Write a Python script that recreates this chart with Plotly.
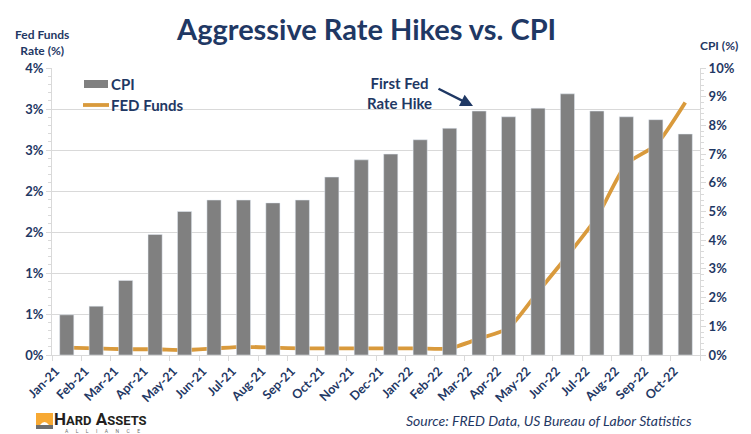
import plotly.graph_objects as go

months = ["Jan-21","Feb-21","Mar-21","Apr-21","May-21","Jun-21","Jul-21","Aug-21","Sep-21",
          "Oct-21","Nov-21","Dec-21","Jan-22","Feb-22","Mar-22","Apr-22","May-22","Jun-22",
          "Jul-22","Aug-22","Sep-22","Oct-22"]
cpi = [1.4, 1.7, 2.6, 4.2, 5.0, 5.4, 5.4, 5.3, 5.4, 6.2, 6.8, 7.0, 7.5, 7.9, 8.5, 8.3,
       8.6, 9.1, 8.5, 8.3, 8.2, 7.7]
fed_funds = [0.09, 0.08, 0.07, 0.07, 0.06, 0.08, 0.10, 0.09, 0.08, 0.08, 0.08, 0.08, 0.08,
             0.08, 0.20, 0.33, 0.77, 1.21, 1.68, 2.33, 2.56, 3.08]
left_tickvals = [0, 0.5, 1.0, 1.5, 2.0, 2.5, 3.0, 3.5]
left_ticktext = ["0%", "1%", "1%", "2%", "2%", "3%", "3%", "4%"]
right_tickvals = list(range(0, 11))
right_ticktext = [f"{v}%" for v in right_tickvals]

NAVY = "#1F3864"
FONT = "Lato"
GOLD = "#D99A3C"
GRAY = "#808080"

# plot area in pixels
L, R, T, B = 52, 700, 68, 355
W, H = R - L, B - T
def px(x): return (x - L) / W
def py(y): return (B - y) / H

fig = go.Figure()
fig.add_trace(go.Bar(x=months, y=cpi, name="CPI", marker_color=GRAY, width=0.48,
                     yaxis="y2", showlegend=False, hoverinfo="skip"))
fig.add_trace(go.Scatter(x=months, y=fed_funds, name="FED Funds", mode="lines",
                         line=dict(color=GOLD, width=3.8, shape="spline", smoothing=0.6),
                         yaxis="y", showlegend=False, hoverinfo="skip"))

fig.update_layout(
    width=751, height=434,
    margin=dict(l=L, r=751 - R, t=T, b=434 - B),
    paper_bgcolor="white", plot_bgcolor="white",
    font=dict(family=FONT, color=NAVY),
    xaxis=dict(type="category", tickangle=-45, tickson="boundaries", ticks="outside",
               ticklen=5, tickcolor="#d9d9d9", showline=True, linecolor="#d9d9d9",
               tickfont=dict(size=12.5, color=NAVY, family=FONT, weight="bold"),
               ticklabelshift=-11, ticklabelstandoff=3,
               showgrid=False, automargin=False),
    yaxis=dict(range=[0, 3.5], tickvals=left_tickvals, ticktext=left_ticktext,
               showgrid=True, gridcolor="#d9d9d9", gridwidth=1, zeroline=False,
               showline=True, linecolor="#d9d9d9", ticks="outside", ticklen=5,
               tickcolor="#d9d9d9", automargin=False,
               minor=dict(dtick=0.1, ticks="outside", ticklen=3, tickcolor="#d9d9d9", showgrid=False),
               tickfont=dict(size=13, color=NAVY, family=FONT, weight="bold")),
    yaxis2=dict(range=[0, 10], tickvals=right_tickvals, ticktext=right_ticktext,
                overlaying="y", side="right", showgrid=False, zeroline=False,
                showline=True, linecolor="#d9d9d9", ticks="outside", ticklen=5,
                tickcolor="#d9d9d9", automargin=False,
                minor=dict(dtick=0.2, ticks="outside", ticklen=3, tickcolor="#d9d9d9"),
                tickfont=dict(size=13, color=NAVY, family=FONT, weight="bold")),
    bargap=0.52,
)

# Title and axis titles
fig.add_annotation(text="<b>Aggressive Rate Hikes vs. CPI</b>", xref="paper", yref="paper",
                   x=px(366), y=py(28), xanchor="center", yanchor="middle", showarrow=False,
                   font=dict(size=29, color=NAVY, family=FONT))
fig.add_annotation(text="<b>Fed Funds<br>Rate (%)</b>", xref="paper", yref="paper",
                   x=px(42), y=py(42), xanchor="center", yanchor="middle",
                   showarrow=False, align="center", font=dict(size=12, color=NAVY, family=FONT))
fig.add_annotation(text="<b>CPI (%)</b>", xref="paper", yref="paper",
                   x=px(719), y=py(46), xanchor="center", yanchor="middle",
                   showarrow=False, font=dict(size=12, color=NAVY, family=FONT))

# Legend (custom)
fig.add_shape(type="rect", xref="paper", yref="paper", x0=px(84), x1=px(108),
              y0=py(88), y1=py(80), fillcolor=GRAY, line_width=0)
fig.add_shape(type="line", xref="paper", yref="paper", x0=px(83), x1=px(109),
              y0=py(105), y1=py(105), line=dict(color=GOLD, width=3.8))
fig.add_annotation(text="<b>CPI</b>", xref="paper", yref="paper", x=px(109),
                   y=py(84), xanchor="left", yanchor="middle", showarrow=False,
                   font=dict(size=15, color=NAVY, family=FONT))
fig.add_annotation(text="<b>FED Funds</b>", xref="paper", yref="paper", x=px(109),
                   y=py(105), xanchor="left", yanchor="middle", showarrow=False,
                   font=dict(size=15, color=NAVY, family=FONT))

# First hike annotation
fig.add_annotation(text="<b>First Fed<br>Rate Hike</b>", xref="paper", yref="paper",
                   x=px(399), y=py(93), xanchor="center", yanchor="middle",
                   showarrow=False, font=dict(size=15, color=NAVY, family=FONT))
fig.add_annotation(x=px(473), y=py(106), xref="paper", yref="paper", ax=-36, ay=-18,
                   showarrow=True, arrowhead=2, arrowsize=1, arrowwidth=2.5,
                   arrowcolor=NAVY, text="")

# Source
fig.add_annotation(text="<i>Source: FRED Data, US Bureau of Labor Statistics</i>",
                   xref="paper", yref="paper", x=px(694), y=py(421), xanchor="right",
                   yanchor="middle", showarrow=False,
                   font=dict(size=14, color=NAVY, family=FONT))

# Logo
fig.add_shape(type="rect", xref="paper", yref="paper", x0=px(36), x1=px(53),
              y0=py(425), y1=py(413), fillcolor="#F7A933", line_width=0)
fig.add_shape(type="rect", xref="paper", yref="paper", x0=px(36), x1=px(53),
              y0=py(429), y1=py(425), fillcolor="#6E6E6E", line_width=0)
fig.add_shape(type="path", xref="paper", yref="paper",
              path=(f"M {px(40)},{py(425)} Q {px(44.5)},{py(419)} {px(49)},{py(425)} Z"),
              fillcolor="white", line_width=0)
fig.add_annotation(
    text="<b>H<span style='font-size:13px'>ARD</span> A<span style='font-size:13px'>SSETS</span></b>",
    xref="paper", yref="paper", x=px(52), y=py(419), xanchor="left", yanchor="middle",
    showarrow=False, font=dict(size=17, color="#231F20", family="Roboto"))
fig.add_annotation(text="A      L      L      I      A      N      C      E", xref="paper", yref="paper",
                   x=px(63), y=py(431), xanchor="left", yanchor="middle", showarrow=False,
                   font=dict(size=5, color="#6E6E6E", family="Roboto"))

fig.write_html("out.html", config={"displayModeBar": False},
               post_script="document.body.style.margin='0';document.body.style.overflow='hidden';")
